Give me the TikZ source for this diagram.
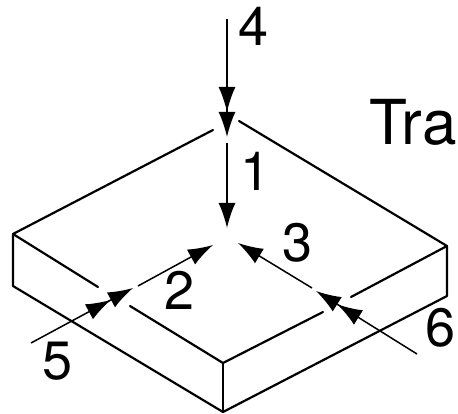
\documentclass[tikz,border=0pt]{standalone}
\usepackage{fontspec}
\setmainfont{TeX Gyre Heros}
\usetikzlibrary{arrows.meta}

\tikzset{
  slab/.style={line width=2.2pt, line cap=round, line join=round},
  flow/.style={line width=1.5pt, -{Latex[length=25pt, width=17pt]}},
  flowtwo/.style={line width=1.5pt, -{Latex[length=25pt, width=17pt] Latex[length=25pt, width=17pt]}},
  num/.style={inner sep=0pt, font=\fontsize{54pt}{54pt}\selectfont},
}

\begin{document}
\begin{tikzpicture}[x=1pt, y=-1pt]
  \useasboundingbox (0,0) rectangle (458,414);

  % slab corners
  \coordinate (left) at (13,234);
  \coordinate (leftlow) at (13,286);
  \coordinate (right) at (447,246);
  \coordinate (rightlow) at (447,296);
  \coordinate (front) at (223,363);
  \coordinate (frontlow) at (223,412);

  % ends of the broken top edges
  \coordinate (backl) at (213,130);
  \coordinate (backr) at (239,121);
  \coordinate (leftbr) at (98,287);
  \coordinate (frontbl) at (130,306);
  \coordinate (frontbr) at (323,312);
  \coordinate (rightbr) at (351,297);

  % slab outline
  \draw[slab] (backl) -- (left) -- (leftlow) -- (frontlow) -- (rightlow) -- (right) -- (backr);
  \draw[slab] (left) -- (leftbr);
  \draw[slab] (frontbl) -- (front) -- (frontbr);
  \draw[slab] (rightbr) -- (right);
  \draw[slab] (front) -- (frontlow);

  % arrow ends
  \coordinate (s4) at (227,19);
  \coordinate (t4) at (227,137);
  \coordinate (s1) at (227,143);
  \coordinate (t1) at (227,228);
  \coordinate (s2) at (138,286);
  \coordinate (t2) at (213,245);
  \coordinate (s3) at (312,288);
  \coordinate (t3) at (238,243);
  \coordinate (s5) at (31,343);
  \coordinate (t5) at (133,288);
  \coordinate (s6) at (417,354);
  \coordinate (t6) at (316,291);

  % arrows
  \draw[flowtwo] (s4) -- (t4);
  \draw[flow] (s1) -- (t1);
  \draw[flow] (s2) -- (t2);
  \draw[flow] (s3) -- (t3);
  \draw[flowtwo] (s5) -- (t5);
  \draw[flowtwo] (s6) -- (t6);

  % labels
  \node[num] (n1) at (256,171) {1};
  \node[num] (n2) at (180,290) {2};
  \node[num] (n3) at (298,243) {3};
  \node[num] (n4) at (254,26) {4};
  \node[num] (n5) at (58,361) {5};
  \node[num] (n6) at (441,328) {6};
  \node[inner sep=0pt, font=\fontsize{62pt}{62pt}\selectfont] (tra) at (413,122) {Tra};
\end{tikzpicture}
\end{document}
